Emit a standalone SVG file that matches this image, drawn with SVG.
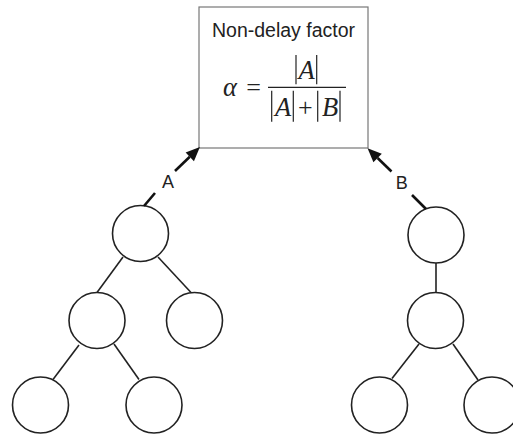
<svg xmlns="http://www.w3.org/2000/svg" width="513" height="435" viewBox="0 0 513 435">
  <style>
    .bg { fill: #ffffff; }
    .node circle { fill: #ffffff; stroke: #222222; stroke-width: 1.6; }
    .edge { stroke: #222222; stroke-width: 1.6; fill: none; }
    .flow { stroke: #111111; stroke-width: 2.6; fill: none; }
    .box { fill: #ffffff; stroke: #777777; stroke-width: 1.2; }
    .title { font-family: "Liberation Sans", Arial, sans-serif; font-size: 19.5px; fill: #222222; text-anchor: middle; }
    .lbl { font-family: "Liberation Sans", Arial, sans-serif; font-size: 18px; fill: #222222; text-anchor: middle; }
    .mi { font-family: "Liberation Serif", "Times New Roman", serif; font-style: italic; font-size: 26.5px; fill: #222222; text-anchor: middle; }
    .mo { font-family: "Liberation Serif", "Times New Roman", serif; font-size: 26px; fill: #222222; text-anchor: middle; }
    .rule { stroke: #222222; stroke-width: 1.2; }
  </style>
  <defs>
    <marker id="head" markerUnits="userSpaceOnUse" markerWidth="14" markerHeight="12" refX="0" refY="6" orient="auto" overflow="visible">
      <path d="M0,0 L14,6 L0,12 z" fill="#111111"/>
    </marker>
  </defs>

  <rect class="bg" x="0" y="0" width="513" height="435"/>

  <!-- factor box with formula -->
  <g id="factor">
    <rect class="box" x="199" y="7" width="169" height="141"/>
    <text class="title" x="283.5" y="36.7">Non-delay factor</text>
    <text class="mi" x="230" y="95.5" font-size="26">α</text>
    <text class="mo" x="253.5" y="95.5">=</text>
    <line class="rule" x1="268" y1="87.3" x2="346" y2="87.3"/>
    <!-- numerator |A| -->
    <line class="rule" x1="296" y1="55" x2="296" y2="84.3"/>
    <text class="mi" x="306.5" y="79.3">A</text>
    <line class="rule" x1="316.7" y1="55" x2="316.7" y2="84.3"/>
    <!-- denominator |A| + |B| -->
    <line class="rule" x1="271.7" y1="90.7" x2="271.7" y2="121.7"/>
    <text class="mi" x="283" y="115.7">A</text>
    <line class="rule" x1="293.3" y1="90.7" x2="293.3" y2="121.7"/>
    <text class="mo" x="305.3" y="115.7">+</text>
    <line class="rule" x1="317.7" y1="90.7" x2="317.7" y2="121.7"/>
    <text class="mi" x="330" y="115.7">B</text>
    <line class="rule" x1="340" y1="90.7" x2="340" y2="121.7"/>
  </g>

  <!-- left tree -->
  <g id="a-root" class="node"><circle cx="140.5" cy="233.5" r="28"/></g>
  <g id="a-mid-left" class="node"><circle cx="97" cy="320.5" r="28"/></g>
  <g id="a-mid-right" class="node"><circle cx="194.5" cy="320.5" r="28"/></g>
  <g id="a-leaf-left" class="node"><circle cx="40.5" cy="405" r="28"/></g>
  <g id="a-leaf-right" class="node"><circle cx="154" cy="405" r="28"/></g>

  <!-- right tree -->
  <g id="b-root" class="node"><circle cx="436" cy="235" r="28"/></g>
  <g id="b-mid" class="node"><circle cx="435.5" cy="320.5" r="28"/></g>
  <g id="b-leaf-left" class="node"><circle cx="379.5" cy="405" r="28"/></g>
  <g id="b-leaf-right" class="node"><circle cx="492" cy="405" r="28"/></g>

  <g id="connectors">
    <!-- tree edges -->
    <line class="edge" x1="123" y1="257" x2="97" y2="292.5"/>
    <line class="edge" x1="158" y1="257" x2="191" y2="292.5"/>
    <line class="edge" x1="79" y1="345" x2="53" y2="379.5"/>
    <line class="edge" x1="114" y1="344" x2="139" y2="379.5"/>
    <line class="edge" x1="436" y1="263" x2="436" y2="292.5"/>
    <line class="edge" x1="419" y1="344" x2="392" y2="378.5"/>
    <line class="edge" x1="453" y1="344" x2="478" y2="380"/>

    <!-- arrow A -->
    <line class="flow" x1="144" y1="206" x2="155" y2="193"/>
    <line class="flow" x1="175" y1="171" x2="189.8" y2="156.8" marker-end="url(#head)"/>
    <text class="lbl" x="168" y="188">A</text>

    <!-- arrow B -->
    <line class="flow" x1="426" y1="209" x2="412" y2="195"/>
    <line class="flow" x1="391.5" y1="171.5" x2="377.6" y2="158" marker-end="url(#head)"/>
    <text class="lbl" x="401.7" y="188.5">B</text>
  </g>
</svg>
